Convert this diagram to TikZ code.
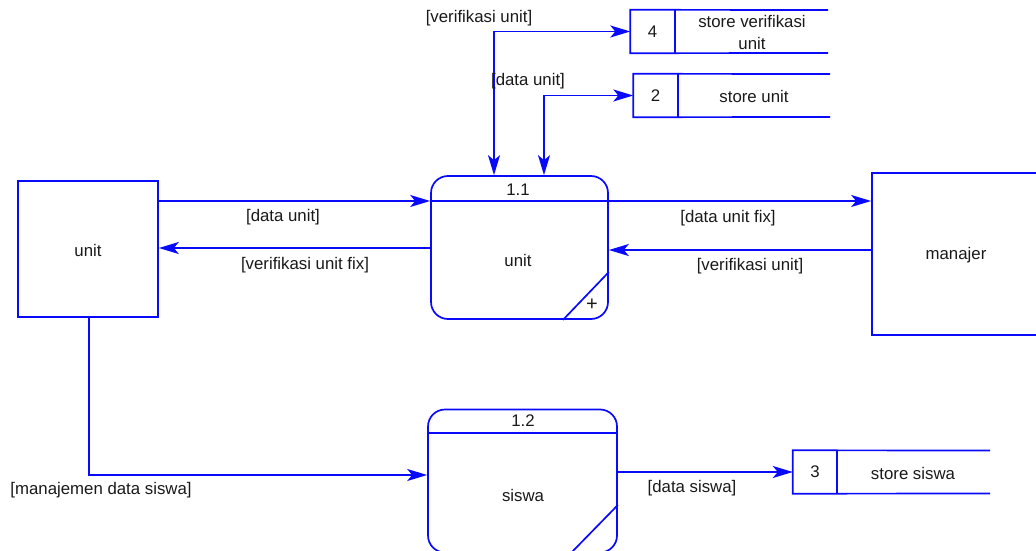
\documentclass[tikz,border=0pt]{standalone}
\usepackage{fontspec}
\setmainfont{Liberation Sans}
\usetikzlibrary{arrows.meta,calc}
\definecolor{dfdblue}{RGB}{10,10,250}
\definecolor{labeltext}{RGB}{25,25,25}

\begin{document}
\begin{tikzpicture}[x=1pt,y=-1pt,
  every node/.style={font=\fontsize{16.8}{22}\selectfont, text=labeltext, inner sep=0pt},
  line/.style={draw=dfdblue, line width=1.7pt},
  tip/.style={-{Stealth[length=20pt,width=12pt,inset=5pt]}},
  bothtips/.style={{Stealth[length=20pt,width=12pt,inset=5pt]}-{Stealth[length=20pt,width=12pt,inset=5pt]}},
  entitybox/.style={line, rectangle, minimum width=#1},
  procbox/.style={line, rectangle, rounded corners=17pt, minimum width=#1, minimum height=143pt},
  storeid/.style={rectangle, minimum width=44pt, minimum height=43pt}
]
\useasboundingbox (0,0) rectangle (1036,551);
\clip (0,0) rectangle (1036,551);

% external entities
\node[entitybox=140pt, minimum height=136pt] (ue) at (88,249) {};
\node (uetxt) at (88,250) {unit};
\node[entitybox=168pt, minimum height=162pt] (man) at (956,254) {};
\node (mantxt) at (956,255) {manajer};

% process 1.1
\node[procbox=177pt] (p11) at (519.5,247.5) {};
\draw[line] (p11.west |- 0,201) -- (p11.east |- 0,201);
\draw[line] (p11.south -| 563,0) -- (p11.east |- 0,272);
\node (p11id) at (518,190) {1.1};
\node (p11txt) at (518,260) {unit};
\node[font=\fontsize{20}{20}\selectfont] (p11plus) at (592,305) {+};

% process 1.2
\node[procbox=189pt] (p12) at (522.5,481) {};
\draw[line] (p12.west |- 0,433) -- (p12.east |- 0,433);
\draw[line] (571,553) -- (p12.east |- 0,505);
\node (p12id) at (523,421) {1.2};
\node (p12txt) at (523,495) {siswa};

% data stores: open-ended boxes with an id cell
\node[storeid] (s4id) at (652.5,31.5) {4};
\draw[line] (828,10) -- (s4id.north west) -- (s4id.south west) -- (828,53);
\draw[line] (s4id.north east) -- (s4id.south east);
\node[align=center] (s4txt) at (752,32) {store verifikasi\\unit};

\node[storeid] (s2id) at (655.5,95.5) {2};
\draw[line] (830,74) -- (s2id.north west) -- (s2id.south west) -- (830,117);
\draw[line] (s2id.north east) -- (s2id.south east);
\node (s2txt) at (754,96) {store unit};

\node[storeid] (s3id) at (815,472) {3};
\draw[line] (990,450.5) -- (s3id.north west) -- (s3id.south west) -- (990,493.5);
\draw[line] (s3id.north east) -- (s3id.south east);
\node (s3txt) at (913,473) {store siswa};

% data flows
\draw[line,bothtips] (p11.north -| 494,0) |- (s4id.west);
\node (f1) at (479,18) {[verifikasi unit]};
\draw[line,bothtips] (p11.north -| 544,0) |- (s2id.west);
\node (f2) at (528,81) {[data unit]};

\draw[line,tip] (ue.east |- 0,201) -- (p11.west |- 0,201);
\node (f3) at (283,217) {[data unit]};
\draw[line,tip] (p11.west |- 0,248) -- (ue.east |- 0,248);
\node (f4) at (305,265) {[verifikasi unit fix]};

\draw[line,tip] (p11.east |- 0,201) -- (man.west |- 0,201);
\node (f5) at (728,218) {[data unit fix]};
\draw[line,tip] (man.west |- 0,250) -- (p11.east |- 0,250);
\node (f6) at (750,266) {[verifikasi unit]};

\draw[line,tip] (ue.south -| 89,0) |- (p12.west |- 0,475);
\node (f7) at (101,490) {[manajemen data siswa]};

\draw[line,tip] (p12.east |- s3id.west) -- (s3id.west);
\node (f8) at (692,488) {[data siswa]};
\end{tikzpicture}
\end{document}
